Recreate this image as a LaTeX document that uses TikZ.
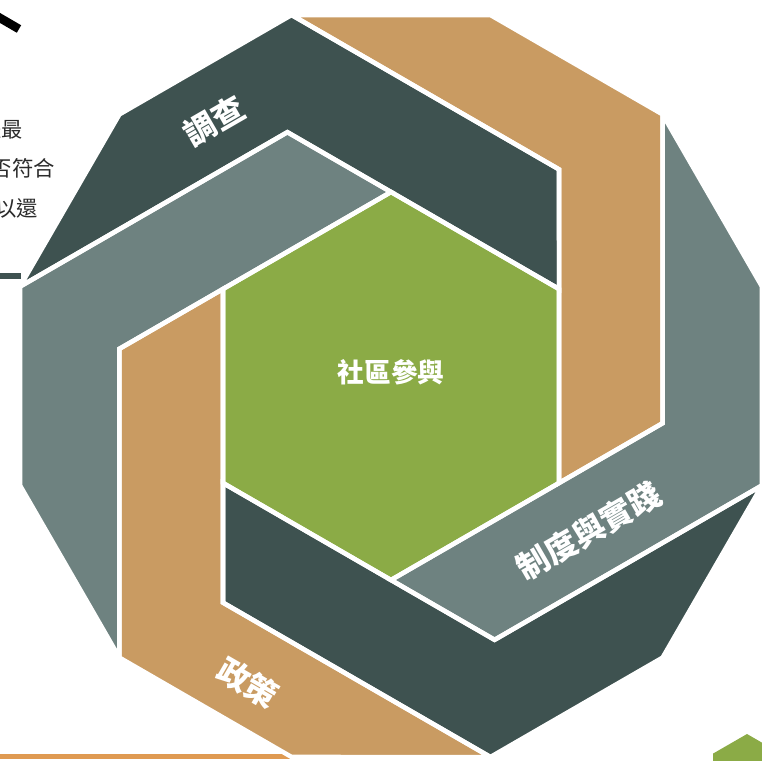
\documentclass[tikz,border=0pt]{standalone}
\usepackage{fontspec}
\newfontfamily\cjk{Noto Sans CJK TC}
\begin{document}
\begin{tikzpicture}[x=0.75pt,y=-0.75pt,
  lab/.style={text=white, inner sep=0pt, font=\cjk\bfseries\fontsize{24}{28}\selectfont},
  side/.style={text=txtc, inner sep=0pt, anchor=east, font=\cjk\fontsize{16}{19}\selectfont},
  border/.style={draw=white, line width=3.4pt, line join=miter}]
\definecolor{darkc}{HTML}{3E5250}
\definecolor{grayc}{HTML}{6E8280}
\definecolor{tanc}{HTML}{C99B62}
\definecolor{greenc}{HTML}{8BAB46}
\definecolor{orangec}{HTML}{DF9A52}
\definecolor{txtc}{HTML}{2B2B2B}
\useasboundingbox (0,0) rectangle (762,760);
\clip (0,0) rectangle (762,760);
% side decorations
\draw[line width=6.5pt, black] (-12,11) -- (19,29);
\fill[darkc] (0,273) rectangle (21,279);
\fill[orangec] (0,754) rectangle (296,759);
\fill[greenc] (747,734) -- (781,753.6) -- (781,792.9) -- (747,812.5) -- (713,792.9) -- (713,753.6) -- cycle;
% side text
\node[side] (t1) at (23,130) {是最};
\node[side] (t2) at (55,168) {否符合};
\node[side] (t3) at (38,208) {以還};
% arms
\foreach \k/\c in {0/grayc,1/darkc,2/tanc,3/grayc,4/darkc,5/tanc} {
  \begin{scope}[shift={(391,386)}, rotate=-60*\k]
    \fill[\c] (-103.6,-253.8) -- (0,-194) -- (-271.6,-37.2) -- (-271.6,271.6) -- (-371,99.4) -- (-371,-99.4) -- cycle;
  \end{scope}
}
\begin{scope}[shift={(391,386)}]
  \fill[greenc] (0,-194) -- (168,-97) -- (168,97) -- (0,194) -- (-168,97) -- (-168,-97) -- cycle;
\end{scope}
\foreach \k in {0,...,5} {
  \begin{scope}[shift={(391,386)}, rotate=-60*\k]
    \path[border] (-103.6,-253.8) -- (0,-194) -- (-271.6,-37.2) -- (-271.6,271.6) -- (-371,99.4) -- (-371,-99.4) -- cycle;
  \end{scope}
}
\begin{scope}[shift={(391,386)}]
  \path[border] (0,-194) -- (168,-97) -- (168,97) -- (0,194) -- (-168,97) -- (-168,-97) -- cycle;
\end{scope}
% labels
\node[lab, rotate=30] (l1) at (214,121) {調查};
\node[lab, rotate=30] (l2) at (589,531) {制度與實踐};
\node[lab, rotate=-30] (l3) at (248,683) {政策};
\node[lab, font=\cjk\bfseries\fontsize{20}{24}\selectfont] (l0) at (391,372) {社區參與};
\end{tikzpicture}
\end{document}
